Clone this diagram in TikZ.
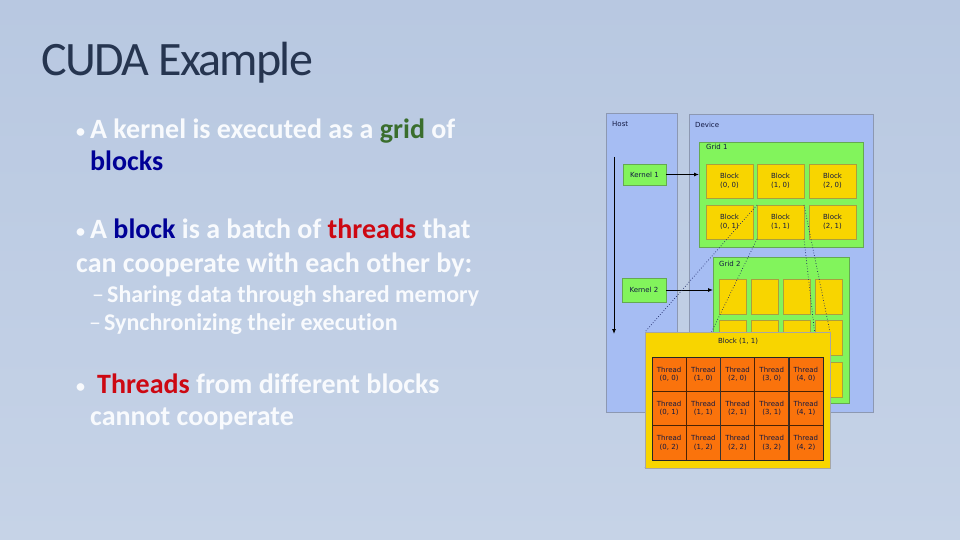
\documentclass[tikz,border=0pt]{standalone}
\usepackage{fontspec}
\setmainfont{Carlito}[Ligatures=NoCommon]
\newfontfamily\titlefont[LetterSpace=-3.5]{Carlito}
\newfontfamily\dejavu{DejaVu Sans}
\usetikzlibrary{arrows.meta}
\definecolor{bgtop}{RGB}{184,200,225}
\definecolor{bgbot}{RGB}{198,211,231}
\definecolor{panelfill}{RGB}{166,189,243}
\definecolor{panelborder}{RGB}{140,152,178}
\definecolor{gridgreenfill}{RGB}{130,244,92}
\definecolor{greenborder}{RGB}{100,170,80}
\definecolor{blockyellow}{RGB}{248,213,0}
\definecolor{yellowborder}{RGB}{170,160,60}
\definecolor{threadorange}{RGB}{250,115,12}
\definecolor{labelnavy}{RGB}{18,24,66}
\definecolor{titlenavy}{RGB}{38,53,80}
\definecolor{wordgreen}{RGB}{58,110,45}
\definecolor{wordnavy}{RGB}{0,0,150}
\definecolor{wordred}{RGB}{205,8,18}
\definecolor{bodywhite}{RGB}{248,250,253}
\definecolor{dotline}{RGB}{25,35,100}
\newcommand{\bul}{\makebox[14pt][l]{\raisebox{1pt}{\fontsize{18}{18}\selectfont •}}}
\newcommand{\subdash}{\makebox[15pt][l]{\fontseries{m}\selectfont –}}
\begin{document}
\begin{tikzpicture}[x=1pt,y=-1pt,
  box/.style={inner sep=0pt, outer sep=0pt, anchor=north west, line width=0.6pt},
  panel/.style={box, draw=panelborder, fill=panelfill},
  gridbox/.style={box, draw=greenborder, fill=gridgreenfill},
  blockbox/.style={box, draw=yellowborder, fill=blockyellow, align=center,
     font=\dejavu\fontsize{7}{8.5}\selectfont, text=labelnavy},
  kernelbox/.style={box, draw=greenborder, fill=gridgreenfill, align=center,
     font=\dejavu\fontsize{7}{8.5}\selectfont, text=labelnavy},
  cell/.style={box, draw=black!70!threadorange, line width=0.4pt, fill=threadorange,
     minimum width=34.2pt, minimum height=34.33pt, align=center,
     font=\dejavu\fontsize{7}{8.5}\selectfont, text=labelnavy},
  lbl/.style={inner sep=0pt, anchor=base west, font=\dejavu\fontsize{7}{8.5}\selectfont, text=labelnavy},
  arr/.style={-{Latex[length=5pt,width=4pt]}, line width=0.9pt, black},
  dots/.style={dotted, line width=0.7pt, dotline},
  btext/.style={inner sep=0pt, anchor=base west, text=bodywhite, font=\bfseries\fontsize{28}{30}\selectfont},
  stext/.style={inner sep=0pt, anchor=base west, text=bodywhite, font=\bfseries\fontsize{24}{26}\selectfont}
]
\useasboundingbox (0,0) rectangle (960,540);
\shade[top color=bgtop, bottom color=bgbot] (0,0) rectangle (960,540);

% title and text
\node[inner sep=0pt, anchor=base west, text=titlenavy, font=\titlefont\fontsize{48}{50}\selectfont] (title) at (41,76) {CUDA Example};
\node[btext] (l1) at (76,139) {\bul A kernel is executed as a \textcolor{wordgreen}{grid} of};
\node[btext] (l2) at (90,171) {\textcolor{wordnavy}{blocks}};
\node[btext] (l3) at (76,238) {\bul A \textcolor{wordnavy}{block} is a batch of \textcolor{wordred}{threads} that};
\node[btext] (l4) at (76,272) {can cooperate with each other by:};
\node[stext] (l5) at (92,302) {\subdash Sharing data through shared memory};
\node[stext] (l6) at (89,330) {\subdash Synchronizing their execution};
\node[btext] (l7) at (76,393) {\bul\hspace{7pt}\textcolor{wordred}{Threads} from different blocks};
\node[btext] (l8) at (90,425) {cannot cooperate};

% panels
\node[panel, minimum width=71pt, minimum height=299pt] (host) at (606,113) {};
\node[panel, minimum width=184pt, minimum height=298pt] (device) at (689,114) {};
\node[lbl] (hostlbl) at (612,127) {Host};
\node[lbl] (devlbl) at (695,128) {Device};

% host timeline
\coordinate (htop) at (614,157);
\coordinate (hbot) at (614,334);
\draw[arr] (htop) -- (hbot);

% kernels
\node[kernelbox, minimum width=43pt, minimum height=21pt] (k1) at (623,164) {Kernel 1};
\node[kernelbox, minimum width=44pt, minimum height=24pt] (k2) at (622,278) {Kernel 2};

% grid 1
\node[gridbox, minimum width=164pt, minimum height=105pt] (g1) at (699,142) {};
\node[lbl] (g1lbl) at (706,150) {Grid 1};
\foreach \i/\x in {0/706,1/757,2/809}{
  \foreach \j/\y in {0/164,1/205}{
    \node[blockbox, minimum width=47pt, minimum height=34pt] (b\i\j) at (\x,\y) {Block\\(\i, \j)};
  }
}
\draw[arr] (k1.east) -- (k1.east -| g1.west);

% grid 2
\node[gridbox, minimum width=136pt, minimum height=146pt] (g2) at (713,257) {};
\node[lbl] (g2lbl) at (719,266) {Grid 2};
\foreach \i/\x in {0/719,1/751,2/783,3/815}{
  \foreach \j/\y in {0/279,1/320,2/362}{
    \node[blockbox, minimum width=27pt, minimum height=35pt] (c\i\j) at (\x,\y) {};
  }
}
\draw[arr] (k2.east) -- (k2.east -| g2.west);

% zoom lines
\node[box, minimum width=185pt, minimum height=136pt] (bigpos) at (645,332) {};
\draw[dots] (b11.north west) -- (bigpos.north west);
\draw[dots] (b11.south west) -- (bigpos.south west);
\draw[dots] (b11.north east) -- (bigpos.north east);
\draw[dots] (b11.south east) -- (bigpos.south east);

% expanded block
\node[box, draw=gray!70, fill=blockyellow, minimum width=185pt, minimum height=136pt] (big) at (645,332) {};
\node[inner sep=0pt, anchor=base, font=\dejavu\fontsize{7}{8.5}\selectfont, text=labelnavy] (biglbl) at (738,343) {Block (1, 1)};
\foreach \i in {0,...,4}{
  \foreach \j in {0,1,2}{
    \node[cell] (t\i\j) at ({652+34.2*\i},{357+34.33*\j}) {Thread\\(\i, \j)};
  }
}
\draw[line width=0.8pt, black!85] (t00.north west) rectangle (t42.south east);
\draw[line width=0.7pt, black!80] (t20.north west) -- (t22.south west);
\draw[line width=0.7pt, black!80] (t40.north west) -- (t42.south west);
\end{tikzpicture}
\end{document}
